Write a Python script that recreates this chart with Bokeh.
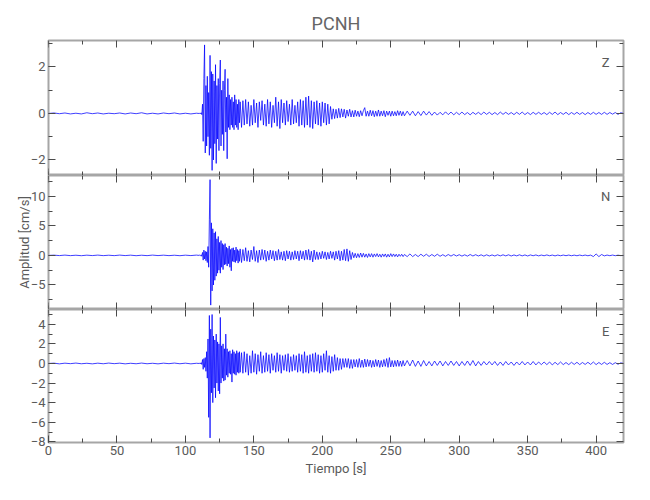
import numpy as np
from bokeh.plotting import figure
from bokeh.layouts import column
from bokeh.models import Range1d, SingleIntervalTicker, Label, LinearAxis
from bokeh.embed import file_html
from bokeh.resources import INLINE

STATION = "PCNH"
X_LABEL = "Tiempo [s]"
Y_LABEL = "Amplitud [cm/s]"
COMPONENTS = ["Z", "N", "E"]

# sampling grids of the traces (s)
t_pre = np.arange(0, 110, 4.0)          # 28 samples
t_strong = np.arange(110, 140.01, 0.5)  # 61 samples
t_coda1 = np.arange(141, 260.01, 1.0)   # 120 samples
t_coda2 = np.arange(262, 420.01, 2.0)   # 80 samples

# ---------------- Z component (cm/s) ----------------
z_pre = [0.0, 0.02, -0.01, 0.02, -0.02, 0.01, -0.02,
         0.03, -0.01, 0.02, -0.02, 0.01, -0.01, 0.02,
         -0.02, 0.02, -0.01, 0.03, -0.02, 0.01, -0.02,
         0.02, -0.01, 0.02, -0.02, 0.01, -0.02, 0.01]
z_strong = [0.0, 0.01, -0.02, 0.03, -0.05, 0.4, -1.2, 1.5, 2.95, -1.7,
            1.2, -1.4, 1.6, -1.0, 0.9, -1.8, 2.5, -1.5, 1.8, -2.45,
            1.7, -2.0, 1.4, -1.3, 2.1, -2.15, 1.2, -1.1, 1.5, -1.6,
            1.3, 2.3, -1.4, 1.0, -0.9, 1.4, -1.6, 1.0, 1.9, -0.8,
            0.7, -1.95, 1.5, -0.6, 0.8, -0.7, 0.6, -0.5, 0.7, -0.6,
            0.5, -0.7, 0.8, -0.5, 0.6, -0.6, 0.4, -0.7, 0.6, -0.4,
            0.5]
z_coda1 = [-0.6, 0.55, -0.5, 0.6, -0.45, 0.5, -0.55, 0.35, -0.5, 0.6,
           -0.4, 0.45, -0.6, 0.5, -0.3, 0.55, -0.5, 0.4, -0.55, 0.6,
           -0.45, 0.5, -0.6, 0.35, -0.4, 0.7, -0.55, 0.5, -0.65, 0.6,
           -0.4, 0.45, -0.5, 0.55, -0.35, 0.4, -0.5, 0.6, -0.45, 0.35,
           -0.4, 0.5, -0.55, 0.6, -0.5, 0.55, -0.6, 0.7, -0.5, 0.75,
           -0.6, 0.55, -0.65, 0.5, -0.45, 0.55, -0.5, 0.45, -0.55, 0.5,
           -0.4, 0.45, -0.5, 0.4, -0.45, 0.3, -0.25, 0.2, -0.22, 0.18,
           -0.2, 0.22, -0.18, 0.2, -0.15, 0.18, -0.2, 0.15, -0.12, 0.18,
           -0.15, 0.12, -0.15, 0.14, -0.12, 0.1, -0.14, 0.12, -0.1, 0.12,
           0.25, -0.12, 0.1, -0.12, 0.14, -0.1, 0.12, -0.14, 0.1, -0.12,
           0.15, -0.12, 0.1, -0.1, 0.12, -0.14, 0.1, -0.08, 0.1, -0.12,
           0.1, -0.1, 0.08, -0.1, 0.12, -0.08, 0.1, -0.1, 0.08, -0.1]
z_coda2 = [0.1, -0.08, 0.1, -0.1, 0.08, -0.09, 0.1, -0.07, 0.08, -0.08,
           0.06, -0.07, 0.05, -0.06, 0.07, -0.05, 0.06, -0.06, 0.05, -0.05,
           0.06, -0.05, 0.04, -0.06, 0.05, -0.04, 0.05, -0.05, 0.06, -0.04,
           0.05, -0.05, 0.04, -0.05, 0.06, -0.04, 0.05, -0.04, 0.04, -0.05,
           0.05, -0.04, 0.06, -0.05, 0.04, -0.05, 0.05, -0.04, 0.05, -0.04,
           0.04, -0.05, 0.05, -0.04, 0.06, -0.05, 0.04, -0.04, 0.05, -0.05,
           0.04, -0.04, 0.05, -0.04, 0.04, -0.05, 0.04, -0.04, 0.05, -0.04,
           0.04, -0.04, 0.05, -0.04, 0.04, -0.03, 0.04, -0.04, 0.03, 0.0]

# ---------------- N component (cm/s) ----------------
n_pre = [0.0, 0.04, -0.03, 0.05, -0.04, 0.03, -0.05,
         0.04, -0.03, 0.05, -0.04, 0.03, -0.04, 0.05,
         -0.03, 0.04, -0.05, 0.03, -0.04, 0.05, -0.03,
         0.04, -0.04, 0.03, -0.05, 0.04, -0.03, 0.05]
n_strong = [0.0, 0.05, -0.05, 0.1, -0.15, 0.5, -0.8, 0.9, -0.6, 0.7,
            -0.9, 0.6, -1.2, 1.5, -2.0, 6.0, 12.8, -8.4, 5.5, -6.0,
            4.5, -5.0, 3.8, -4.2, 4.0, -3.5, 2.8, -3.0, 3.2, -2.5,
            2.2, -3.0, 2.5, -2.0, 2.0, -2.4, 1.8, -1.6, 2.0, -1.5,
            1.4, -1.8, 1.2, -1.4, 1.6, -2.0, 1.0, -2.6, 1.2, -1.0,
            1.3, -1.1, 0.9, -1.2, 1.4, -0.9, 1.0, -1.3, 0.8, -1.0,
            1.1]
n_coda1 = [-1.2, 1.0, -0.9, 1.3, -1.0, 0.8, -1.1, 0.9, -0.7, 1.5,
           -1.0, 0.8, -1.2, 0.9, -0.8, 1.0, -0.7, 0.9, -1.0, 0.7,
           -0.8, 0.9, -0.6, 0.8, -0.9, 0.7, -0.8, 1.0, -0.7, 0.6,
           -0.8, 0.7, -0.9, 0.8, -0.6, 0.7, -0.8, 0.6, -0.7, 0.8,
           -0.6, 0.7, -0.9, 0.8, -0.6, 0.7, -0.8, 0.9, -0.7, 1.0,
           -0.8, 0.7, -1.1, 0.9, -0.7, 0.6, -0.7, 0.5, -0.6, 0.7,
           -0.5, 0.6, -0.7, 0.5, -0.6, 0.7, -0.5, 0.6, -0.8, 0.7,
           -0.6, 0.8, -0.9, 0.7, -0.8, 1.0, -0.9, 1.1, -1.0, 0.8,
           -0.7, 0.5, -0.4, 0.35, -0.4, 0.3, -0.35, 0.4, -0.3, 0.35,
           -0.3, 0.25, -0.35, 0.3, -0.25, 0.3, -0.3, 0.25, -0.2, 0.3,
           -0.25, 0.2, -0.3, 0.25, -0.2, 0.25, -0.3, 0.2, -0.25, 0.3,
           -0.2, 0.25, -0.2, 0.2, -0.25, 0.2, -0.15, 0.2, -0.2, 0.15]
n_coda2 = [-0.2, 0.25, -0.2, 0.15, -0.2, 0.2, -0.15, 0.2, -0.18, 0.15,
           -0.15, 0.2, -0.15, 0.12, -0.15, 0.15, -0.12, 0.15, -0.1, 0.12,
           -0.12, 0.1, -0.12, 0.15, -0.1, 0.12, -0.1, 0.1, -0.12, 0.1,
           -0.1, 0.08, -0.1, 0.1, -0.08, 0.1, -0.08, 0.1, -0.1, 0.08,
           -0.08, 0.1, -0.08, 0.08, -0.1, 0.08, -0.06, 0.08, -0.08, 0.06,
           -0.06, 0.08, -0.06, 0.06, -0.08, 0.06, -0.06, 0.06, -0.05, 0.06,
           -0.06, 0.05, -0.06, 0.06, -0.05, 0.06, -0.06, 0.05, -0.2, 0.25,
           -0.2, 0.15, -0.08, 0.06, -0.05, 0.06, -0.05, 0.04, -0.04, 0.0]

# ---------------- E component (cm/s) ----------------
e_pre = [0.0, 0.03, -0.04, 0.03, -0.02, 0.04, -0.03,
         0.02, -0.04, 0.03, -0.03, 0.04, -0.02, 0.03,
         -0.04, 0.02, -0.03, 0.04, -0.03, 0.02, -0.04,
         0.03, -0.02, 0.04, -0.03, 0.03, -0.04, 0.02]
e_strong = [0.0, 0.03, -0.05, 0.08, -0.1, 0.4, -0.6, 0.5, -0.4, 0.6,
            -0.8, 1.2, -1.5, 2.5, -5.5, 4.9, -7.6, 3.5, -3.0, 5.0,
            -4.0, 2.8, -2.5, 2.4, -3.5, 3.0, -2.0, 2.2, -2.8, 2.0,
            -3.1, 4.7, -2.0, 1.8, -1.5, 2.0, -1.8, 1.5, -1.7, 3.0,
            -1.2, 1.5, -1.4, 1.2, -1.0, 1.3, -1.1, 1.0, -1.9, 1.4,
            -1.0, 1.2, -1.1, 1.0, -1.2, 1.3, -0.9, 1.1, -1.0, 1.2,
            -0.9]
e_coda1 = [1.1, -1.0, 1.2, -0.9, 1.0, -1.2, 0.8, -1.0, 1.3, -0.9,
           1.0, -1.1, 0.9, -0.8, 1.2, -1.0, 0.8, -0.9, 1.1, -0.8,
           0.9, -1.0, 1.0, -0.7, 0.8, -0.9, 1.1, -0.8, 0.9, -1.0,
           0.8, -0.7, 0.9, -0.8, 1.0, -0.9, 0.7, -0.8, 0.9, -0.7,
           0.8, -0.9, 1.0, -0.8, 0.9, -1.0, 1.2, -0.9, 0.8, -1.0,
           0.9, -0.8, 1.0, -0.9, 1.1, -0.8, 0.9, -1.0, 0.8, -0.9,
           1.0, -0.7, 1.3, -0.9, 0.8, -1.0, 0.7, -0.8, 0.9, -0.7,
           0.6, -0.7, 0.5, -0.6, 0.5, -0.4, 0.5, -0.4, 0.5, -0.5,
           0.4, -0.5, 0.4, -0.35, 0.4, -0.4, 0.5, -0.4, 0.35, -0.4,
           0.45, -0.35, 0.4, -0.3, 0.35, -0.4, 0.3, -0.35, 0.4, -0.3,
           0.35, -0.4, 0.3, -0.35, 0.4, -0.3, 0.5, -0.4, 0.6, -0.35,
           0.3, -0.35, 0.3, -0.3, 0.35, -0.3, 0.25, -0.3, 0.3, -0.25]
e_coda2 = [0.3, -0.25, 0.35, -0.3, 0.25, -0.3, 0.3, -0.25, 0.2, -0.25,
           0.25, -0.2, 0.25, -0.25, 0.2, -0.2, 0.25, -0.2, 0.2, -0.25,
           0.2, -0.2, 0.25, -0.2, 0.3, -0.25, 0.2, -0.2, 0.2, -0.15,
           0.2, -0.15, 0.2, -0.2, 0.15, -0.2, 0.2, -0.15, 0.15, -0.2,
           0.15, -0.15, 0.2, -0.15, 0.15, -0.15, 0.2, -0.15, 0.15, -0.12,
           0.15, -0.12, 0.15, -0.15, 0.12, -0.12, 0.15, -0.12, 0.1, -0.12,
           0.12, -0.1, 0.12, -0.12, 0.1, -0.1, 0.12, -0.1, 0.15, -0.12,
           0.1, -0.1, 0.12, -0.1, 0.08, -0.1, 0.08, -0.08, 0.06, 0.0]

# axis ranges / tick spacing
X_RANGE = (0, 420)
Y_RANGES = {"Z": (-2.67, 3.14), "N": (-9.14, 13.5), "E": (-8.07, 5.51)}
Y_TICK_STEP = {"Z": 2, "N": 5, "E": 2}
LETTER_Y = {"Z": 2.19, "N": 9.93, "E": 3.22}

t_all = np.concatenate([t_pre, t_strong, t_coda1, t_coda2])
traces = {
    "Z": np.array(z_pre + z_strong + z_coda1 + z_coda2),
    "N": np.array(n_pre + n_strong + n_coda1 + n_coda2),
    "E": np.array(e_pre + e_strong + e_coda1 + e_coda2),
}
for k, v in traces.items():
    assert len(v) == len(t_all), (k, len(v), len(t_all))

FONT = "Roboto"
TXT = "#5a5a5a"
FRAME = "#a6a6a6"
TICK = "#4a4a4a"
FRAME_W = 575
FRAME_H = {"Z": 135, "N": 134, "E": 133}
MAJ_LEN = 7
MIN_LEN = 4


def style_axis(ax, labels=True):
    ax.axis_line_color = None
    ax.major_tick_in = MAJ_LEN
    ax.major_tick_out = 0
    ax.minor_tick_in = MIN_LEN
    ax.minor_tick_out = 0
    ax.major_tick_line_color = TICK
    ax.minor_tick_line_color = TICK
    if labels:
        ax.major_label_text_font = FONT
        ax.major_label_text_font_size = "13px"
        ax.major_label_text_color = TXT
        ax.major_label_standoff = 3
    else:
        ax.major_label_text_color = None


def edge_axis(p, side, ticker, location):
    # tick-only axis drawn on a frame edge; it takes no layout space
    ax = LinearAxis(ticker=ticker, fixed_location=location)
    style_axis(ax, labels=False)
    p.add_layout(ax, side)


x_range = Range1d(*X_RANGE)
figs = []
for i, comp in enumerate(COMPONENTS):
    top = i == 0
    bottom = i == len(COMPONENTS) - 1
    y0, y1 = Y_RANGES[comp]
    p = figure(frame_width=FRAME_W, frame_height=FRAME_H[comp],
               x_range=x_range, y_range=Range1d(y0, y1),
               output_backend="svg", toolbar_location=None,
               min_border_left=48, min_border_right=20,
               min_border_top=40 if top else 0,
               min_border_bottom=42 if bottom else 0,
               background_fill_color="white", border_fill_color="white",
               outline_line_color=FRAME, outline_line_width=2)
    p.grid.visible = False
    xt = SingleIntervalTicker(interval=50, num_minor_ticks=2)
    yt = SingleIntervalTicker(interval=Y_TICK_STEP[comp], num_minor_ticks=2)
    xax = p.xaxis[0]
    yax = p.yaxis[0]
    xax.ticker = xt
    yax.ticker = yt
    style_axis(yax)
    if bottom:
        style_axis(xax)
        xax.axis_label = X_LABEL
        xax.axis_label_text_font = FONT
        xax.axis_label_text_font_size = "13px"
        xax.axis_label_text_font_style = "normal"
        xax.axis_label_text_color = TXT
        xax.axis_label_standoff = 3
    else:
        style_axis(xax, labels=False)
        xax.fixed_location = y0
    edge_axis(p, "above", xt, y1)
    edge_axis(p, "right", yt, X_RANGE[1])

    p.line(t_all, traces[comp], line_color="#0000ff", line_width=0.75)
    p.add_layout(Label(x=407, y=LETTER_Y[comp], text=comp, text_align="center",
                       text_baseline="middle", text_font=FONT,
                       text_font_size="13px", text_color=TXT))
    if top:
        p.title.text = STATION
        p.title.align = "center"
        p.title.text_font = FONT
        p.title.text_font_size = "18px"
        p.title.text_font_style = "normal"
        p.title.text_color = "#666666"
        p.title.standoff = 14
    if comp == "N":
        yax.axis_label = Y_LABEL
        yax.axis_label_text_font = FONT
        yax.axis_label_text_font_size = "13px"
        yax.axis_label_text_font_style = "normal"
        yax.axis_label_text_color = TXT
        yax.axis_label_standoff = -4
    figs.append(p)

layout = column(*figs, spacing=0)
open("out.html", "w").write(file_html(layout, INLINE))
